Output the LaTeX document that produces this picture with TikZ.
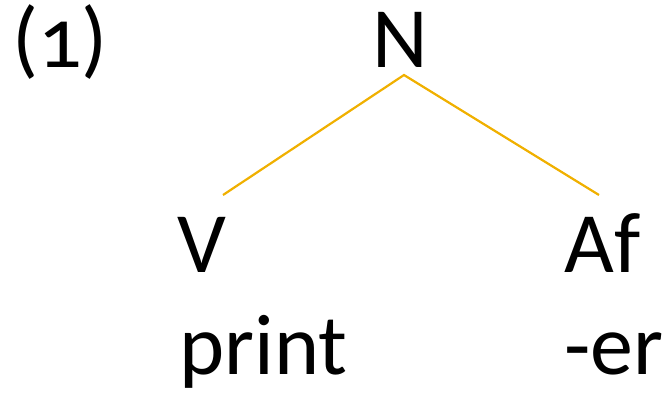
\documentclass[tikz,border=0pt]{standalone}
\usepackage{fontspec}
\setmainfont[Numbers=OldStyle]{Carlito}
\definecolor{branchgold}{HTML}{F0B000}
\begin{document}
\begin{tikzpicture}[x=1pt,y=-1pt,
  lbl/.style={inner sep=0pt,font=\fontsize{86}{86}\selectfont},
  branch/.style={draw=branchgold,line width=2.2pt}]
\useasboundingbox (0,0) rectangle (668,394);
\node[lbl,anchor=base west] (num) at (12,67) {(1)};
\node[lbl,anchor=base] (N) at (400,67) {N};
\node[lbl,anchor=base west] (V) at (177,272) {V};
\node[lbl,anchor=base west] (Af) at (564,272) {Af};
\node[lbl,anchor=base west] (print) at (179,374) {print};
\node[lbl,anchor=base west] (er) at (564,374) {-er};
\coordinate (top) at (404,75);
\coordinate (vend) at (223,195);
\coordinate (afend) at (599,195);
\draw[branch] (vend) -- (top) -- (afend);
\end{tikzpicture}
\end{document}
